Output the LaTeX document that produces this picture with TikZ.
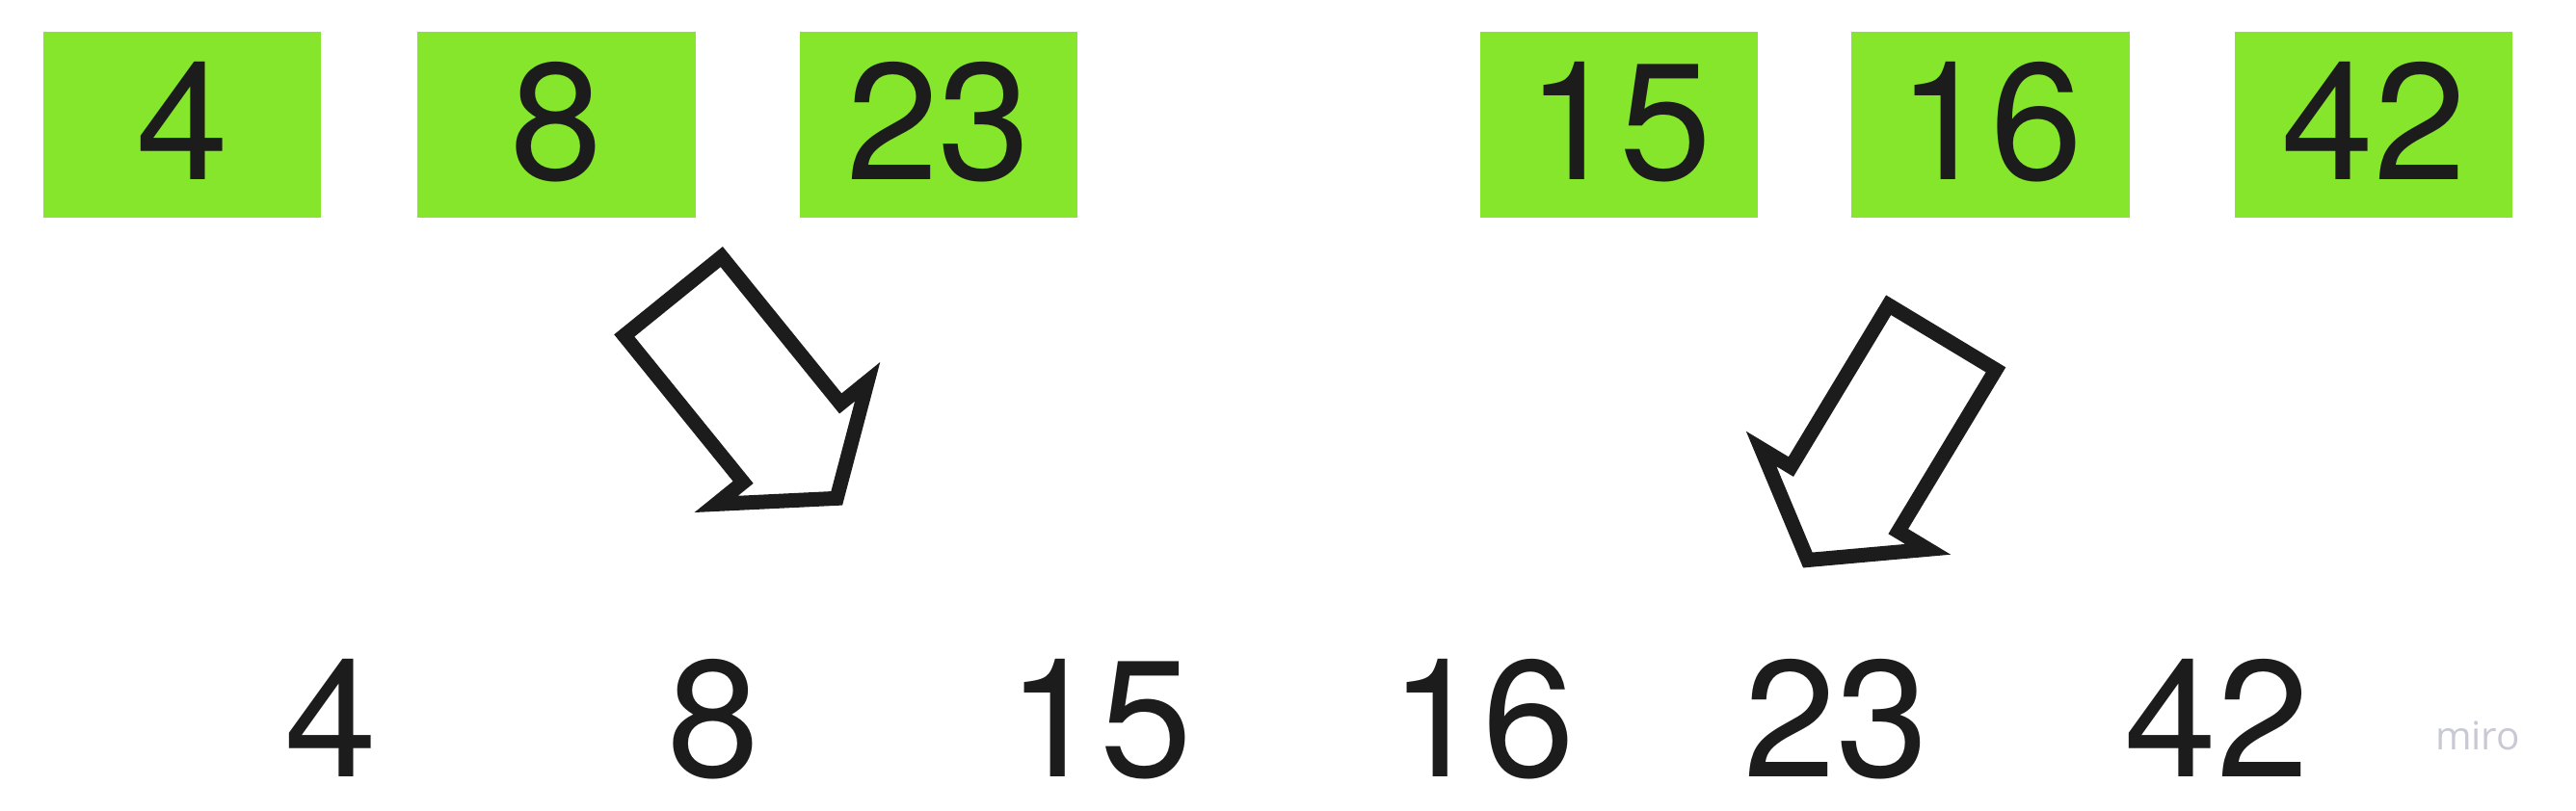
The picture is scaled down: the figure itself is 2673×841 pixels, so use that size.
\documentclass[tikz,border=0pt]{standalone}
\usepackage{fontspec}
\setmainfont{TeX Gyre Heros}
\newfontfamily\logofont{Open Sans}
\definecolor{boxgreen}{HTML}{86E62B}
\definecolor{ink}{HTML}{1C1C1C}
\definecolor{logogray}{HTML}{C9C9D6}
\tikzset{
  numbox/.style={fill=boxgreen, draw=none, minimum width=2.883cm, minimum height=1.923cm, inner sep=0pt, text=ink, font=\fontsize{49}{49}\selectfont, text height=1.21cm, text depth=0.08cm},
  numtext/.style={text=ink, inner sep=0pt, font=\fontsize{49}{49}\selectfont, text height=1.21cm, text depth=0cm},
  blockarrow/.style={draw=ink, line width=0.15cm, line join=miter, miter limit=10, fill=white},
}
\begin{document}
\begin{tikzpicture}[x=0.01cm, y=-0.01cm]
\useasboundingbox (0,0) rectangle (2673,841);
% top row
\node[numbox] (t4)  at (189,129.5)    {4};
\node[numbox] (t8)  at (577.7,129.5)  {8};
\node[numbox] (t23) at (973.8,129.5)  {23};
\node[numbox] (t15) at (1680,129.5)   {15};
\node[numbox] (t16) at (2065.7,129.5) {16};
\node[numbox] (t42) at (2463.2,129.5) {42};
% bottom row
\node[numtext] (b4)  at (343,746)  {4};
\node[numtext] (b8)  at (740,746)  {8};
\node[numtext] (b15) at (1141,746) {15};
\node[numtext] (b16) at (1538,746) {16};
\node[numtext] (b23) at (1905,746) {23};
\node[numtext] (b42) at (2300,746) {42};
% block arrows
\begin{scope}[shift={(698.3,307.5)}, rotate=-51]
  \draw[blockarrow] (0,65) -- (196,65) -- (196,101) -- (270,0) -- (196,-101) -- (196,-65) -- (0,-65) -- cycle;
\end{scope}
\begin{scope}[shift={(2015.3,350.3)}, rotate=-121.1]
  \draw[blockarrow] (0,65) -- (196,65) -- (196,101) -- (270,0) -- (196,-101) -- (196,-65) -- (0,-65) -- cycle;
\end{scope}
% logo
\node[anchor=base, inner sep=0pt, text=logogray, font=\logofont\fontsize{11.5}{12}\selectfont] (logo) at (2571,778) {miro};
\end{tikzpicture}
\end{document}
